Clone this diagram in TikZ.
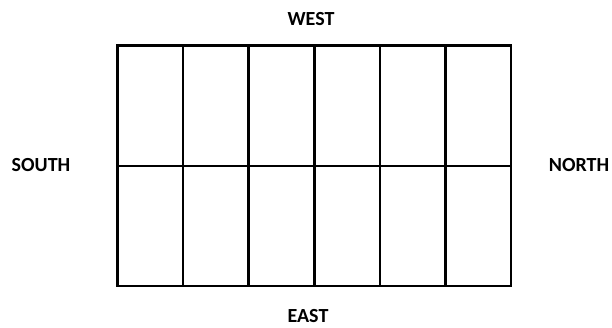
\documentclass[tikz,border=0pt]{standalone}
\usepackage{fontspec}
\setmainfont{Carlito}
\usetikzlibrary{positioning}
\tikzset{
  dirlabel/.style={font=\fontsize{15}{18}\selectfont\bfseries, inner sep=0pt},
  gridline/.style={line width=1.9pt, line cap=rect}
}

\begin{document}
\begin{tikzpicture}[x=0.75pt, y=0.75pt]
  \useasboundingbox (0,0) rectangle (612,328);

  % Cells
  \draw[gridline] (117.5,42) rectangle (511,282.5);
  \draw[gridline] (117.5,162) -- (511,162);
  \foreach \i in {1,...,5} {
    \draw[gridline] ({117.5+\i*65.58},42) -- ({117.5+\i*65.58},282.5);
  }

  % Directions
  \node[dirlabel] (west)  at (311,309) {WEST};
  \node[dirlabel] (east)  at (308,12)  {EAST};
  \node[dirlabel] (south) at (41,163)  {SOUTH};
  \node[dirlabel] (north) at (579,163) {NORTH};
\end{tikzpicture}
\end{document}
